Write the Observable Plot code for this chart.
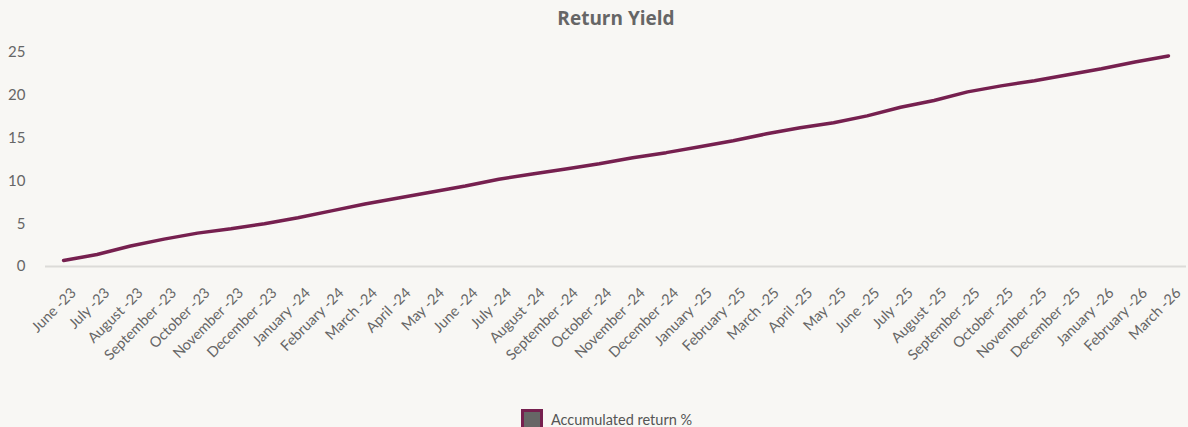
<!DOCTYPE html>
<html>
<head>
<meta charset="utf-8">
<script src="https://cdn.jsdelivr.net/npm/d3@7"></script>
<script src="https://cdn.jsdelivr.net/npm/@observablehq/plot@0.6"></script>
<style>
  html, body { margin: 0; padding: 0; background: #f8f7f4; }
  body { width: 1188px; height: 427px; overflow: hidden; font-family: Lato, "Open Sans", sans-serif; }
  #title { height: 35px; line-height: 36px; text-align: center; font-family: "Open Sans", sans-serif; font-size: 19px; font-weight: 700; color: #666; padding-left: 44px; }
  #chart svg { display: block; background: transparent; }
  #legend { display: flex; justify-content: center; align-items: center; height: 27px; padding-left: 25px; padding-top: 6px; }
  #legend .sw { width: 16px; height: 16px; background: #666; border: 3px solid #76204f; margin-right: 8px; }
  #legend .lb { font-size: 14.5px; color: #555; }
</style>
</head>
<body>
<div id="title">Return Yield</div>
<div id="chart"></div>
<div id="legend"><span class="sw"></span><span class="lb">Accumulated return %</span></div>
<script>
const months = ["June -23","July -23","August -23","September -23","October -23","November -23","December -23",
  "January -24","February -24","March -24","April -24","May -24","June -24","July -24","August -24","September -24","October -24","November -24","December -24",
  "January -25","February -25","March -25","April -25","May -25","June -25","July -25","August -25","September -25","October -25","November -25","December -25",
  "January -26","February -26","March -26"];
const accumulatedReturn = [0.7, 1.4, 2.4, 3.2, 3.9, 4.4, 5.0, 5.7, 6.5, 7.3, 8.0, 8.7, 9.4, 10.2, 10.8, 11.4, 12.0, 12.7, 13.3,
  14.0, 14.7, 15.5, 16.2, 16.8, 17.6, 18.6, 19.4, 20.4, 21.1, 21.7, 22.4, 23.1, 23.9, 24.6];
const yTicks = [0, 5, 10, 15, 20, 25];

const data = months.map((m, i) => ({month: m, value: accumulatedReturn[i]}));

const chart = Plot.plot({
  width: 1188,
  height: 365,
  marginTop: 17,
  marginBottom: 134,
  marginLeft: 45,
  marginRight: 2,
  style: {background: "transparent", fontFamily: "Lato, 'Open Sans', sans-serif", fontSize: "14px", color: "#666"},
  x: {type: "point", domain: months, padding: 0.54, round: false, label: null},
  y: {domain: [0, 25], label: null},
  marks: [
    Plot.ruleY([0], {stroke: "#dcdbd8", strokeWidth: 2}),
    Plot.ruleX([0], {frameAnchor: "left", stroke: "#dcdbd8", strokeWidth: 2, y1: 0, y2: 25}),
    Plot.axisY({ticks: yTicks, tickSize: 0, tickPadding: 20, fontSize: 15, fill: "#666", label: null}),
    Plot.axisX({tickSize: 0, tickPadding: 24, dx: 10, tickRotate: -45, fontSize: 14.5, fill: "#666", label: null}),
    Plot.line(data, {x: "month", y: "value", stroke: "#76204f", strokeWidth: 3.5})
  ]
});
document.getElementById("chart").appendChild(chart);
</script>
</body>
</html>
